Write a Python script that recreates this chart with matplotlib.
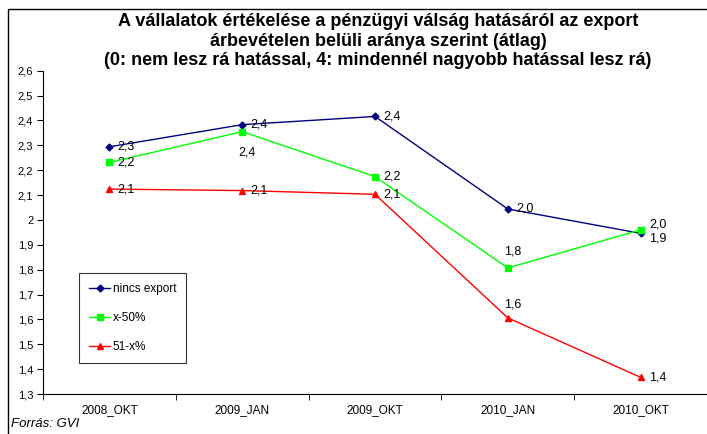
import numpy as np
import matplotlib
matplotlib.use("Agg")
import matplotlib.pyplot as plt
from matplotlib.patches import Rectangle

plt.rcParams['font.family'] = ['Liberation Sans', 'DejaVu Sans']

categories = ['2008_OKT', '2009_JAN', '2009_OKT', '2010_JAN', '2010_OKT']
nincs_export = [2.294, 2.383, 2.416, 2.044, 1.946]
x_50 = [2.231, 2.355, 2.174, 1.807, 1.960]
x_51 = [2.124, 2.118, 2.103, 1.606, 1.367]
series_names = ['nincs export', 'x-50%', '51-x%']
y_ticks = [1.3, 1.4, 1.5, 1.6, 1.7, 1.8, 1.9, 2.0, 2.1, 2.2, 2.3, 2.4, 2.5, 2.6]

title = ('A vállalatok értékelése a pénzügyi válság hatásáról az export\n'
         'árbevételen belüli aránya szerint (átlag)\n'
         '(0: nem lesz rá hatással, 4: mindennél nagyobb hatással lesz rá)')

fig = plt.figure(figsize=(7.07, 4.34), dpi=100)
ax = fig.add_axes([43 / 707, 1 - 394 / 434, 1 - 43 / 707, (394 - 70.7) / 434])

# outer frame of the chart area
fig.patches.append(Rectangle((8 / 707, -0.05), 1.0, 1 - 9 / 434 + 0.05,
                             transform=fig.transFigure, fill=False,
                             edgecolor='black', linewidth=1.0))

x = np.arange(len(categories))
ax.plot(x, nincs_export, color='#000080', marker='D', markersize=3.5, linewidth=1, label=series_names[0])
ax.plot(x, x_50, color='#00FF00', marker='s', markersize=5, linewidth=1, label=series_names[1])
ax.plot(x, x_51, color='#FF0000', marker='^', markersize=5, linewidth=1, label=series_names[2])

def fmt(v):
    return ('%.1f' % v).replace('.', ',')

def tick_fmt(v):
    s = fmt(v)
    return s[:-2] if s.endswith(',0') else s

# data labels; offsets in points (dx, dy)
offsets = {
    0: [(6, 0), (6, 0), (6, 0), (6, 0), (6, -4)],
    1: [(6, 0), (-3, -15), (6, 0), (-3, 12), (6, 4)],
    2: [(6, 0), (6, 0), (6, 0), (-3, 10), (6, 0)],
}
for si, vals in enumerate([nincs_export, x_50, x_51]):
    for i, v in enumerate(vals):
        dx, dy = offsets[si][i]
        ax.annotate(fmt(v), (x[i], v), xytext=(dx, dy), textcoords='offset points',
                    fontsize=9, ha='left', va='center')

ax.set_xlim(-0.5, 4.5)
ax.set_ylim(1.3, 2.6)
ax.set_yticks(y_ticks)
ax.set_yticklabels([tick_fmt(v) for v in y_ticks], fontsize=8)
ax.set_xticks(x)
ax.set_xticklabels(categories, fontsize=8.5)
ax.set_xticks(np.arange(-0.5, 4.6, 1), minor=True)
ax.tick_params(axis='x', which='major', length=0, pad=7)
ax.tick_params(axis='x', which='minor', length=4, direction='out')
ax.tick_params(axis='y', length=4, direction='out', pad=3)

ax.spines['top'].set_visible(False)
ax.spines['right'].set_visible(False)
ax.patch.set_alpha(0)

leg = ax.legend(loc='lower left', bbox_to_anchor=((79 - 43) / 664, (394 - 363) / 323.3),
                fontsize=8.5, frameon=True, fancybox=False, edgecolor='black',
                labelspacing=1.45, handlelength=1.8, handletextpad=0.2,
                borderpad=0.85, borderaxespad=0)
leg.get_frame().set_linewidth(0.8)

fig.text(378 / 707, 1 - 13 / 434, title, ha='center', va='top', fontsize=13,
         fontweight='bold', linespacing=1.2)
fig.text(11 / 707, 1 - 424 / 434, 'Forrás: GVI', ha='left', va='center',
         fontsize=9.5, style='italic')

fig.savefig('out.png', dpi=100)
